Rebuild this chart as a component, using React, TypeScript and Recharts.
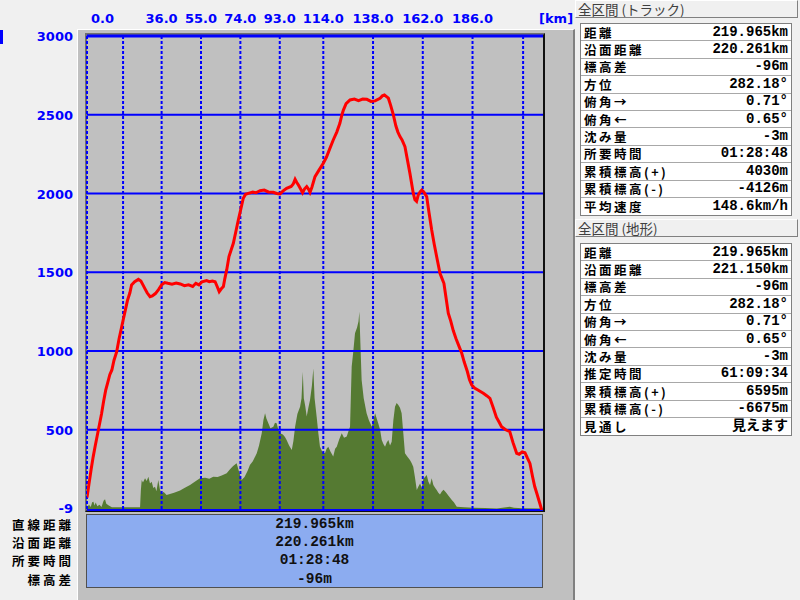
import React from 'react';
import { ComposedChart, Line, Area, XAxis, YAxis, ReferenceLine } from 'recharts';

// ---- data ----
const trackKm = [0, 1, 2, 3, 4, 5.5, 7, 8, 9, 10, 11, 12, 13, 14.3, 15.5, 16.5, 17.5, 18.5, 19.5, 20.7, 21.5, 23, 24.8, 26, 27, 28, 29, 30.4, 31.5, 33, 34.5, 36, 37.5, 39, 41, 43, 45, 47, 49, 51, 52.5, 54, 55.5, 57.7, 59, 60.5, 61.8, 62.8, 63.8, 64.8, 65.8, 66.5, 67.4, 68.5, 69.5, 70.6, 72, 73, 74.2, 75.4, 76.5, 77.8, 80, 81.5, 83.5, 85.5, 87.5, 89.9, 91.5, 93.1, 94.5, 96.3, 98.5, 99.5, 100.4, 101.2, 102, 103, 104, 105, 106, 107, 107.6, 108.5, 110, 112, 114, 115.5, 117, 118.8, 120.5, 122, 123, 123.7, 125, 126.9, 129, 131, 133, 135, 137, 139, 141.4, 142.5, 143.5, 144.5, 145.4, 146.5, 147.8, 149, 150, 151, 152, 153.4, 154.5, 155.8, 156.8, 157.4, 158.2, 159, 159.8, 160.7, 161.5, 162.5, 163.9, 165, 166.3, 167.5, 168.7, 170.3, 171.3, 172.2, 173.2, 174.3, 175.5, 176.7, 178, 179.5, 180.8, 182, 183.5, 184.5, 185.6, 187, 189, 191.2, 193, 194.4, 196, 197.5, 199, 200, 202, 204, 205.5, 207.3, 208.5, 210, 211.3, 212.5, 213.7, 215, 216, 217, 218.3, 219.4];
const trackElev = [70, 160, 250, 330, 400, 500, 600, 680, 750, 800, 850, 880, 940, 994, 1080, 1140, 1200, 1260, 1320, 1370, 1420, 1440, 1455, 1445, 1420, 1395, 1370, 1345, 1350, 1365, 1390, 1420, 1435, 1430, 1425, 1432, 1426, 1415, 1420, 1410, 1430, 1420, 1440, 1447, 1440, 1445, 1440, 1410, 1377, 1395, 1409, 1460, 1515, 1600, 1640, 1684, 1770, 1832, 1900, 1970, 1995, 2001, 2010, 2005, 2018, 2022, 2010, 2008, 2000, 1997, 2015, 2033, 2045, 2060, 2090, 2070, 2054, 2030, 2005, 2030, 2044, 2025, 2008, 2040, 2107, 2150, 2192, 2230, 2280, 2340, 2390, 2446, 2500, 2530, 2570, 2594, 2600, 2590, 2600, 2598, 2585, 2588, 2605, 2620, 2626, 2615, 2605, 2560, 2499, 2430, 2390, 2361, 2340, 2297, 2220, 2128, 2050, 2002, 1960, 1950, 1990, 2010, 2022, 2010, 1980, 1880, 1769, 1680, 1599, 1494, 1460, 1430, 1340, 1240, 1190, 1130, 1080, 1030, 986, 930, 870, 820, 785, 765, 750, 732, 715, 700, 640, 580, 545, 520, 500, 488, 420, 351, 345, 360, 355, 320, 287, 200, 140, 97, 40, -9];

const terrainKm = [0, 0.2, 1, 1.8, 2.5, 3.1, 3.6, 4.2, 5, 6, 7, 8, 8.7, 9.3, 10.5, 12, 17.5, 22, 25.6, 26, 26.4, 27, 28, 28.8, 29.6, 30.4, 31.2, 32, 32.8, 33.5, 34.4, 35.2, 36, 37, 38.4, 40, 42, 44.9, 47, 49.7, 52, 54.5, 57, 59, 60.9, 63, 65, 67.4, 69, 70.5, 72.2, 73, 74.6, 76, 77.5, 78.6, 80, 81.9, 83, 84.3, 85.1, 85.9, 86.6, 87.5, 88.5, 89.9, 90.7, 91.5, 92.3, 93.1, 94.5, 95.5, 96.3, 97.5, 98.8, 99.6, 100.4, 101.5, 102.8, 103.5, 104.1, 104.6, 105.3, 106, 106.8, 107.6, 108.5, 109.2, 109.8, 110.8, 111.6, 112.4, 113.5, 114.8, 115.6, 116.4, 117.5, 118.8, 119.7, 120.5, 121.7, 122.9, 124, 125.3, 126.1, 126.9, 127.7, 128.5, 129.3, 130.3, 131, 131.4, 131.9, 132.5, 133.5, 134.9, 136, 137.4, 138.2, 139, 139.8, 140.5, 141.4, 142.2, 143, 143.8, 144.6, 145.4, 146.2, 147, 147.8, 148.6, 149.4, 150.2, 151, 151.8, 152.6, 153.4, 154.5, 155.8, 156.6, 157.4, 158.2, 159.1, 159.9, 160.7, 161.5, 162.3, 163.1, 163.9, 164.7, 165.5, 166.3, 167.1, 168, 168.7, 169.5, 170.3, 171.1, 172, 172.7, 173.5, 174.5, 176, 177, 178.4, 182, 186.4, 192, 197.7, 204, 206, 210, 220];
const terrainElev = [0, 12, 25, 10, 40, 44, 20, 38, 15, 25, 10, 50, 59, 30, 20, 8, 8, 8, 8, 120, 181, 165, 192, 175, 202, 160, 170, 130, 139, 110, 181, 120, 97, 105, 86, 92, 100, 114, 130, 150, 170, 192, 195, 190, 202, 200, 210, 224, 250, 270, 287, 250, 181, 200, 240, 277, 300, 351, 400, 478, 560, 605, 570, 541, 510, 520, 545, 541, 500, 478, 470, 455, 435, 400, 372, 430, 520, 600, 647, 700, 869, 700, 650, 584, 640, 689, 780, 890, 700, 583, 480, 393, 360, 351, 380, 393, 360, 330, 380, 393, 440, 478, 450, 457, 490, 520, 901, 1000, 1113, 1150, 1190, 1250, 1050, 816, 700, 605, 560, 520, 560, 605, 570, 541, 500, 435, 410, 393, 420, 436, 400, 425, 560, 647, 670, 658, 640, 605, 480, 351, 330, 308, 290, 266, 200, 118, 140, 160, 130, 190, 200, 213, 170, 150, 192, 150, 130, 118, 100, 90, 107, 120, 110, 97, 80, 54, 40, 12, 8, 5, 3, 0, 12, 6, 2, 0];

const kmTicks = [0, 36, 55, 74, 93, 114, 138, 162, 186];
const kmGrid = [0, 17.4, 36, 55, 74, 93, 114, 138, 162, 186, 210.4];
const elevTicks = [-9, 500, 1000, 1500, 2000, 2500, 3000];
const elevGrid = [500, 1000, 1500, 2000, 2500];

const summaryLabels = ['直線距離', '沿面距離', '所要時間', '標高差'];
const summaryValues = ['219.965km', '220.261km', '01:28:48', '-96m'];

const trackStatsTitle = '全区間 (トラック)';
const trackStatsLabels = ['距離', '沿面距離', '標高差', '方位', '俯角→', '俯角←', '沈み量', '所要時間', '累積標高(+)', '累積標高(-)', '平均速度'];
const trackStatsValues = ['219.965km', '220.261km', '-96m', '282.18°', '0.71°', '0.65°', '-3m', '01:28:48', '4030m', '-4126m', '148.6km/h'];

const terrainStatsTitle = '全区間 (地形)';
const terrainStatsLabels = ['距離', '沿面距離', '標高差', '方位', '俯角→', '俯角←', '沈み量', '推定時間', '累積標高(+)', '累積標高(-)', '見通し'];
const terrainStatsValues = ['219.965km', '221.150km', '-96m', '282.18°', '0.71°', '0.65°', '-3m', '61:09:34', '6595m', '-6675m', '見えます'];

const trackData = trackKm.map((km, i) => ({ km, elev: trackElev[i] }));
const terrainData = terrainKm.map((km, i) => ({ km, elev: terrainElev[i] }));

const BLUE = '#0000ff';
const AXIS_FONT = "'DejaVu Sans', sans-serif";
const CJK = "'Noto Sans CJK JP', sans-serif";
const MONO = "'Liberation Mono', 'Noto Sans CJK JP', monospace";

const TopTick = (props: any) => {
  const { x, y, payload } = props;
  const first = payload.value === 0;
  return (
    <text x={first ? x + 4 : x} y={y} textAnchor={first ? 'start' : 'middle'} fill={BLUE}
      fontFamily={AXIS_FONT} fontWeight="bold" fontSize={13}>
      {Number(payload.value).toFixed(1)}
    </text>
  );
};

const LeftTick = (props: any) => {
  const { x, y, payload } = props;
  const lowest = payload.value === elevTicks[0];
  return (
    <text x={x} y={y + (lowest ? 3 : 5)} textAnchor="end" fill={BLUE}
      fontFamily={AXIS_FONT} fontWeight="bold" fontSize={13}>
      {payload.value}
    </text>
  );
};

const ROW = 17.4;

const StatsTable = ({ title, labels, values, top, tableTop }: any) => (
  <>
    <div style={{
      position: 'absolute', left: 575, top, width: 223, height: 18, boxSizing: 'border-box',
      background: '#f0f0f0', borderLeft: '1px solid #ffffff', borderTop: '1px solid #ffffff',
      borderRight: '1px solid #808080', borderBottom: '1px solid #808080',
      fontFamily: CJK, fontSize: 13.5, color: '#404040', lineHeight: '16px', paddingLeft: 2, whiteSpace: 'pre', overflow: 'hidden'
    }}>{title}</div>
    <div style={{
      position: 'absolute', left: 580, top: tableTop, width: 212, height: ROW * labels.length + 2, boxSizing: 'border-box',
      background: '#ffffff', border: '1px solid #808080', overflow: 'hidden'
    }}>
      {labels.map((l: string, i: number) => (
        <div key={i} style={{
          height: ROW, boxSizing: 'border-box', borderBottom: i < labels.length - 1 ? '1px solid #a8a8a8' : 'none',
          display: 'flex', alignItems: 'center', justifyContent: 'space-between', padding: '0 3px 0 3px', overflow: 'hidden'
        }}>
          <span style={{ fontFamily: CJK, fontSize: 12.5, fontWeight: 700, letterSpacing: 2.5, color: '#000', lineHeight: '15px' }}>{l}</span>
          <span style={{ fontFamily: MONO, fontSize: 14, fontWeight: 700, color: '#000', lineHeight: '15px' }}>{values[i]}</span>
        </div>
      ))}
    </div>
  </>
);

export default function App() {
  return (
    <div style={{ position: 'absolute', left: 0, top: 0, width: 800, height: 600, background: '#f0f0f0', overflow: 'hidden' }}>
      {/* left blue mark */}
      <div style={{ position: 'absolute', left: 0, top: 30, width: 3, height: 14, background: BLUE }} />
      {/* grey chart panel */}
      <div style={{
        position: 'absolute', left: 77, top: 29, width: 498, height: 571, boxSizing: 'border-box',
        background: '#c0c0c0', borderLeft: '1px solid #ffffff', borderTop: '1px solid #ffffff',
        borderRight: '2px solid #808080'
      }} />
      {/* plot frame */}
      <div style={{
        position: 'absolute', left: 85, top: 33, width: 460, height: 479, boxSizing: 'border-box',
        background: '#c0c0c0', borderLeft: '2px solid #707070', borderTop: '2px solid #707070',
        borderRight: '2px solid #101010', borderBottom: '2px solid #101010'
      }} />
      {/* chart */}
      <div style={{ position: 'absolute', left: 0, top: 0 }}>
        <ComposedChart width={573} height={600} margin={{ top: 1, right: 30, bottom: 90, left: 7 }}>
          <XAxis
            type="number" dataKey="km" orientation="top" domain={[0, 220]} allowDataOverflow
            ticks={kmTicks} interval={0} axisLine={false} tickLine={false} tickSize={0} tickMargin={13}
            height={35} tick={<TopTick />}
            label={{ value: '[km]', position: 'right', offset: -4, fill: BLUE, fontSize: 13, fontWeight: 'bold', fontFamily: AXIS_FONT }}
          />
          <YAxis
            type="number" domain={[-9, 3000]} allowDataOverflow ticks={elevTicks} interval={0}
            width={80} axisLine={false} tickLine={false} tickSize={0} tickMargin={14}
            tick={<LeftTick />}
          />
          <Area data={terrainData} dataKey="elev" type="linear" fill="#557a32" fillOpacity={1} stroke="none"
            baseValue="dataMin" isAnimationActive={false} dot={false} activeDot={false} />
          {kmGrid.map((k) => (
            <ReferenceLine key={'v' + k} x={k} stroke={BLUE} strokeWidth={2} strokeDasharray="3 2" />
          ))}
          {elevGrid.map((e) => (
            <ReferenceLine key={'h' + e} y={e} stroke={BLUE} strokeWidth={2} />
          ))}
          <ReferenceLine y={3000} stroke={BLUE} strokeWidth={3} />
          <ReferenceLine y={-9} stroke={BLUE} strokeWidth={2} />
          <Line data={trackData} dataKey="elev" type="linear" stroke="#ff0000" strokeWidth={3}
            dot={false} activeDot={false} isAnimationActive={false} />
        </ComposedChart>
      </div>
      {/* summary box */}
      <div style={{
        position: 'absolute', left: 86, top: 514, width: 457, height: 74, boxSizing: 'border-box',
        background: '#8cacf0', border: '1px solid #505050'
      }}>
        {summaryValues.map((v, i) => (
          <div key={i} style={{ height: 18.2, lineHeight: '18.2px', textAlign: 'center', fontFamily: MONO, fontSize: 14.5, fontWeight: 700, color: '#111' }}>{v}</div>
        ))}
      </div>
      <div style={{ position: 'absolute', left: 0, top: 516, width: 74 }}>
        {summaryLabels.map((l, i) => (
          <div key={i} style={{ height: 18.2, lineHeight: '18.2px', textAlign: 'right', fontFamily: CJK, fontSize: 12.5, fontWeight: 700, color: '#000', letterSpacing: 3, whiteSpace: 'nowrap', overflow: 'hidden' }}>{l}</div>
        ))}
      </div>
      {/* right panel */}
      <StatsTable title={trackStatsTitle} labels={trackStatsLabels} values={trackStatsValues} top={0} tableTop={23} />
      <StatsTable title={terrainStatsTitle} labels={terrainStatsLabels} values={terrainStatsValues} top={219} tableTop={243} />
    </div>
  );
}
